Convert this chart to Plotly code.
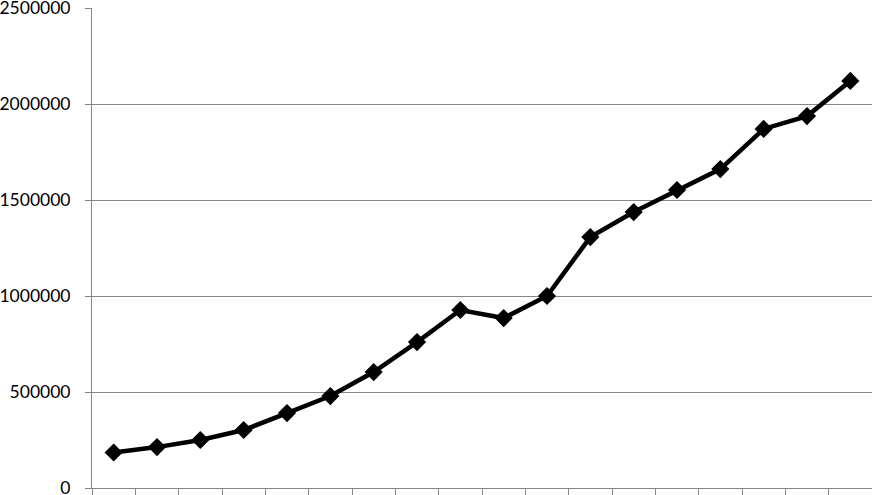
import plotly.graph_objects as go

# category positions (no labels shown on the x axis)
periods = list(range(1, 19))
values = [185000, 213000, 250000, 302000, 390000, 479000, 604000, 760000,
          927000, 885000, 1000000, 1307000, 1437000, 1552000, 1661000,
          1870000, 1937000, 2120000]
y_ticks = [0, 500000, 1000000, 1500000, 2000000, 2500000]

grid = "#868686"

fig = go.Figure()
fig.add_trace(go.Scatter(
    x=periods, y=values, mode="lines+markers",
    line=dict(color="black", width=4.5),
    marker=dict(symbol="diamond", size=14, color="black"),
    showlegend=False,
))

fig.update_layout(
    width=872, height=495,
    margin=dict(l=92, r=0, t=8, b=7),
    plot_bgcolor="white", paper_bgcolor="white",
    font=dict(family="Lato, Carlito, sans-serif", size=17.5, color="black"),
)
fig.update_xaxes(
    range=[0.5, 18.5],
    tickvals=[p - 0.5 for p in periods] + [18.5],
    showticklabels=False,
    ticks="outside", ticklen=7, tickcolor=grid, tickwidth=1,
    showgrid=False, zeroline=False, automargin=False,
    showline=True, linecolor=grid, linewidth=1,
)
fig.update_yaxes(
    range=[0, 2500000],
    tickvals=y_ticks, ticktext=[str(v) for v in y_ticks],
    ticks="outside", ticklen=6, tickcolor=grid,
    ticklabelstandoff=11, ticklabeloverflow="allow",
    showgrid=True, gridcolor=grid, gridwidth=1,
    zeroline=False, automargin=False,
    showline=True, linecolor=grid, linewidth=1,
)

# the page's default body margin would shift the chart by 8px
fig.write_html("out.html", config={"displayModeBar": False},
               post_script="document.body.style.margin='0';")
